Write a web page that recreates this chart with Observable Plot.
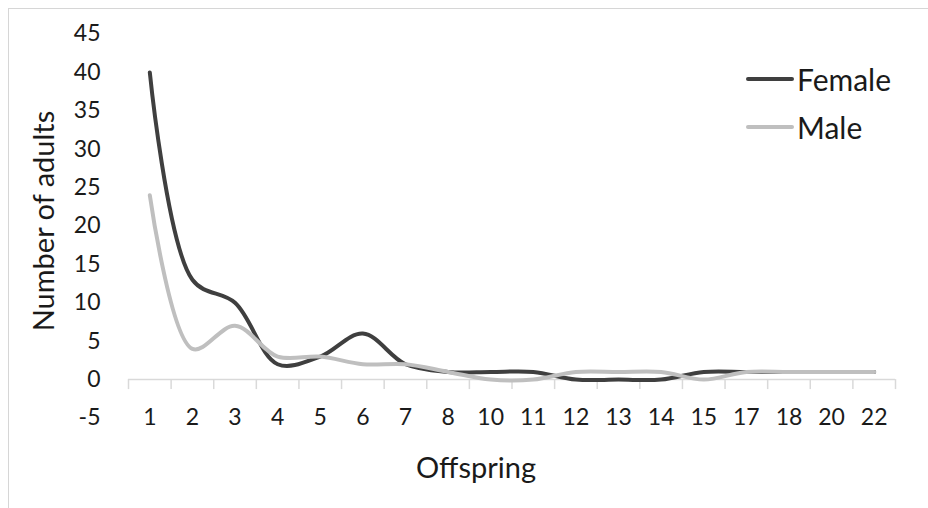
<!DOCTYPE html>
<html>
<head>
<meta charset="utf-8">
<script src="https://cdn.jsdelivr.net/npm/d3@7"></script>
<script src="https://cdn.jsdelivr.net/npm/@observablehq/plot@0.6"></script>
<style>
  html, body { margin: 0; padding: 0; background: #fff; }
  #wrap { position: relative; width: 928px; height: 508px; overflow: hidden; font-family: Lato, "Open Sans", sans-serif; }
  #frame { position: absolute; left: 8px; top: 8px; width: 940px; height: 520px; border: 1.5px solid #d6d6d6; box-sizing: border-box; }
  #chart { position: absolute; left: 0; top: 0; }
  #legend { position: absolute; left: 746px; top: 55px; color: #1a1a1a; font-size: 30px; line-height: 48px; }
  #legend .row { display: flex; align-items: center; height: 48px; }
  #legend .sw { width: 48px; height: 4px; border-radius: 2px; margin-right: 3px; }
</style>
</head>
<body>
<div id="wrap">
  <div id="frame"></div>
  <div id="chart"></div>
  <div id="legend"></div>
</div>
<script>
// Offspring count categories (x axis) and number of adults per sex
const categories = ["1", "2", "3", "4", "5", "6", "7", "8", "10", "11", "12", "13", "14", "15", "17", "18", "20", "22"];
const female = [40, 13, 10, 2, 3, 6, 2, 1, 1, 1, 0, 0, 0, 1, 1, 1, 1, 1];
const male   = [24, 4, 7, 3, 3, 2, 2, 1, 0, 0, 1, 1, 1, 0, 1, 1, 1, 1];
const yTicks = d3.range(-5, 50, 5);

const series = [
  {name: "Female", values: female, color: "#3f3f3f"},
  {name: "Male", values: male, color: "#bfbfbf"}
];

const rows = categories.map((c, i) => ({i, c, female: female[i], male: male[i]}));
// category boundaries, where the axis tick marks sit
const bounds = d3.range(categories.length + 1).map(i => i - 0.5);

const chart = Plot.plot({
  width: 928,
  height: 508,
  marginLeft: 128,
  marginRight: 33,
  marginTop: 33.5,
  marginBottom: 90.5,
  style: {fontFamily: "Lato, 'Open Sans', sans-serif", color: "#1a1a1a", background: "transparent", overflow: "visible"},
  x: {domain: [-0.5, categories.length - 0.5]},
  y: {domain: [-5, 45]},
  marks: [
    Plot.ruleY([0], {stroke: "#d9d9d9", strokeWidth: 1.5}),
    Plot.ruleX(bounds, {x: d => d, y1: 0, y2: 0, insetBottom: -10, stroke: "#d9d9d9", strokeWidth: 1.5}),
    Plot.axisY({ticks: yTicks, tickSize: 0, tickPadding: 28, fontSize: 23, label: null, tickFormat: d => d}),
    Plot.axisX({ticks: d3.range(categories.length), tickSize: 0, tickPadding: 0, lineAnchor: "middle", fontSize: 23, label: null, tickFormat: i => categories[i]}),
    Plot.text(["Number of adults"], {frameAnchor: "left", textAnchor: "middle", rotate: -90, dx: -84, dy: -5, fontSize: 29, fill: "#1a1a1a"}),
    Plot.text(["Offspring"], {frameAnchor: "bottom", dx: -36, dy: 60, fontSize: 29, fill: "#1a1a1a"}),
    ...series.map(s => Plot.line(rows, {
      x: "i",
      y: d => s.values[d.i],
      stroke: s.color,
      strokeWidth: 4,
      strokeLinecap: "round",
      curve: "catmull-rom"
    }))
  ]
});
document.getElementById("chart").appendChild(chart);

// line-swatch legend
const legend = d3.select("#legend");
for (const s of series) {
  const row = legend.append("div").attr("class", "row");
  row.append("div").attr("class", "sw").style("background", s.color);
  row.append("span").text(s.name);
}
</script>
</body>
</html>
